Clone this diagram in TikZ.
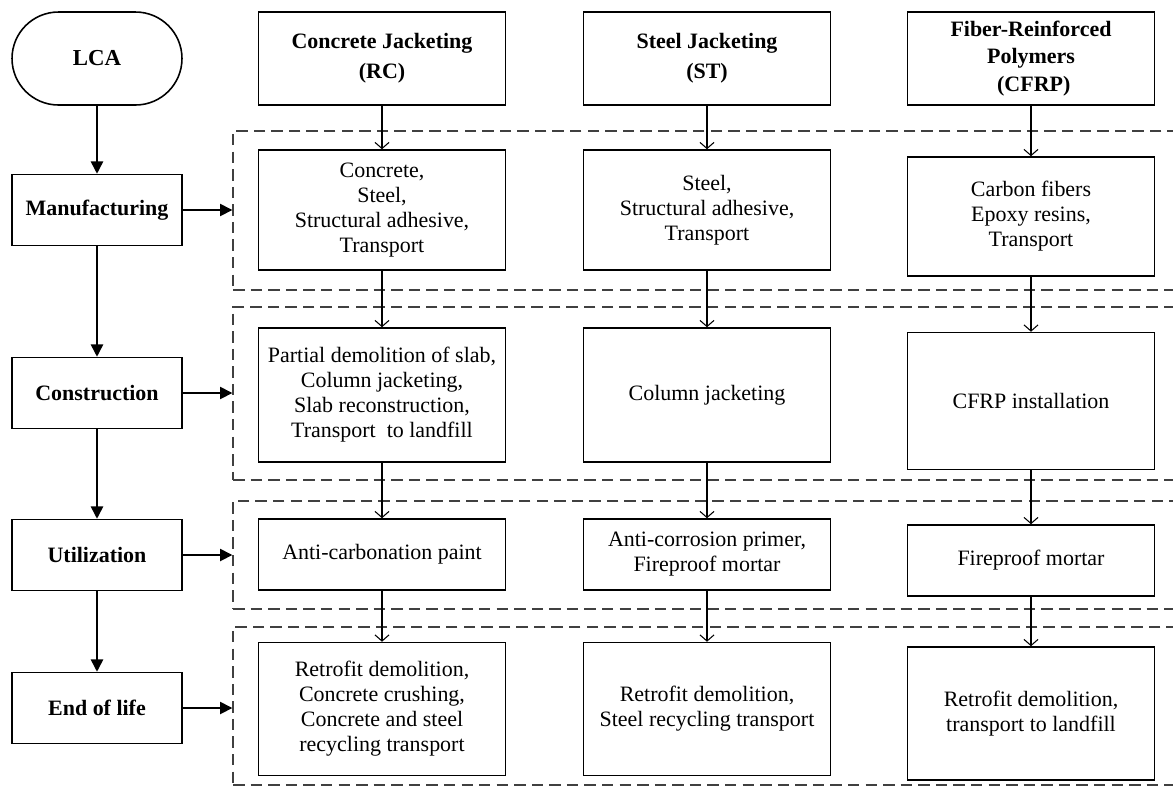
\documentclass[tikz,border=0pt]{standalone}
\usepackage{fontspec}
\setmainfont{Liberation Serif}
\usetikzlibrary{shapes, arrows.meta, positioning, calc}

\begin{document}
\begin{tikzpicture}[x=0.02cm,y=-0.02cm,
  txt/.style={align=center,font=\fontsize{12.5}{14.2}\selectfont},
  stage/.style={draw,line width=0.9pt,align=center,inner sep=2pt,
    font=\bfseries\fontsize{12.5}{14.2}\selectfont,minimum width=3.4cm,minimum height=1.42cm},
  item/.style={draw,line width=0.9pt,txt,inner sep=2pt,minimum width=4.94cm},
  head/.style={item,font=\bfseries\fontsize{12.5}{17}\selectfont,minimum height=1.86cm},
  stageframe/.style={draw=black!75,line width=0.9pt,dash pattern=on 6.5pt off 3.5pt,minimum width=18.94cm},
  flow/.style={line width=0.9pt,-{Triangle[length=7pt,width=7pt]}},
  feed/.style={line width=0.6pt,-{Straight Barb[length=3.5pt,width=8pt]}}]

  \useasboundingbox (0,0) rectangle (1173,789);

  % Dashed stage frames
  \node[stageframe,minimum height=3.18cm] (fm) at (706.5,210.5) {};
  \node[stageframe,minimum height=3.46cm] (fc) at (706.5,393.5) {};
  \node[stageframe,minimum height=2.16cm] (fu) at (706.5,555) {};
  \node[stageframe,minimum height=3.16cm] (fe) at (706.5,706) {};

  % Life cycle stages
  \node[stage,rounded corners=0.93cm,minimum height=1.86cm,
    font=\bfseries\fontsize{13}{15}\selectfont] (lca) at (97,58.5) {LCA};
  \node[stage] (man) at (97,210) {Manufacturing};
  \node[stage] (con) at (97,393) {Construction};
  \node[stage] (uti) at (97,555) {Utilization};
  \node[stage] (eol) at (97,708) {End of life};

  % Retrofit techniques
  \node[head] (rc) at (382,58.5) {Concrete Jacketing\\(RC)};
  \node[head] (st) at (707,58.5) {Steel Jacketing\\(ST)};
  \node[head,font=\bfseries\fontsize{12.5}{15.5}\selectfont] (fr) at (1031,58.5)
    {Fiber-Reinforced\\Polymers\\\ (CFRP)};

  % Manufacturing
  \node[item,minimum height=2.4cm] (rcm) at (382,210)
    {Concrete,\\Steel,\\Structural adhesive,\\Transport};
  \node[item,minimum height=2.4cm] (stm) at (707,210)
    {Steel,\\Structural adhesive,\\Transport};
  \node[item,minimum height=2.38cm] (frm) at (1031,216.5)
    {Carbon fibers\\Epoxy resins,\\Transport};

  % Construction
  \node[item,minimum height=2.68cm] (rcc) at (382,395)
    {Partial demolition of slab,\\Column jacketing,\\Slab reconstruction,\\Transport\ \ to landfill};
  \node[item,minimum height=2.68cm] (stc) at (707,395) {Column jacketing};
  \node[item,minimum height=2.74cm] (frc) at (1031,401) {CFRP installation};

  % Utilization
  \node[item,minimum height=1.42cm] (rcu) at (382,554.5) {Anti-carbonation paint};
  \node[item,minimum height=1.42cm] (stu) at (707,554.5)
    {Anti-corrosion primer,\\Fireproof mortar};
  \node[item,minimum height=1.42cm] (fru) at (1031,560.5) {Fireproof mortar};

  % End of life
  \node[item,minimum height=2.66cm] (rce) at (382,709)
    {Retrofit demolition,\\Concrete crushing,\\Concrete and steel\\recycling transport};
  \node[item,minimum height=2.66cm] (ste) at (707,709)
    {Retrofit demolition,\\Steel recycling transport};
  \node[item,minimum height=2.66cm] (fre) at (1031,713.5)
    {Retrofit demolition,\\transport to landfill};

  % Stage sequence
  \draw[flow] (lca) -- (man);
  \draw[flow] (man) -- (con);
  \draw[flow] (con) -- (uti);
  \draw[flow] (uti) -- (eol);

  % Stage to frame
  \draw[flow] (man) -- (man -| fm.west);
  \draw[flow] (con) -- (con -| fc.west);
  \draw[flow] (uti) -- (uti -| fu.west);
  \draw[flow] (eol) -- (eol -| fe.west);

  % Column chains
  \draw[feed] (rc) -- (rcm);
  \draw[feed] (rcm) -- (rcc);
  \draw[feed] (rcc) -- (rcu);
  \draw[feed] (rcu) -- (rce);
  \draw[feed] (st) -- (stm);
  \draw[feed] (stm) -- (stc);
  \draw[feed] (stc) -- (stu);
  \draw[feed] (stu) -- (ste);
  \draw[feed] (fr) -- (frm);
  \draw[feed] (frm) -- (frc);
  \draw[feed] (frc) -- (fru);
  \draw[feed] (fru) -- (fre);
\end{tikzpicture}
\end{document}
